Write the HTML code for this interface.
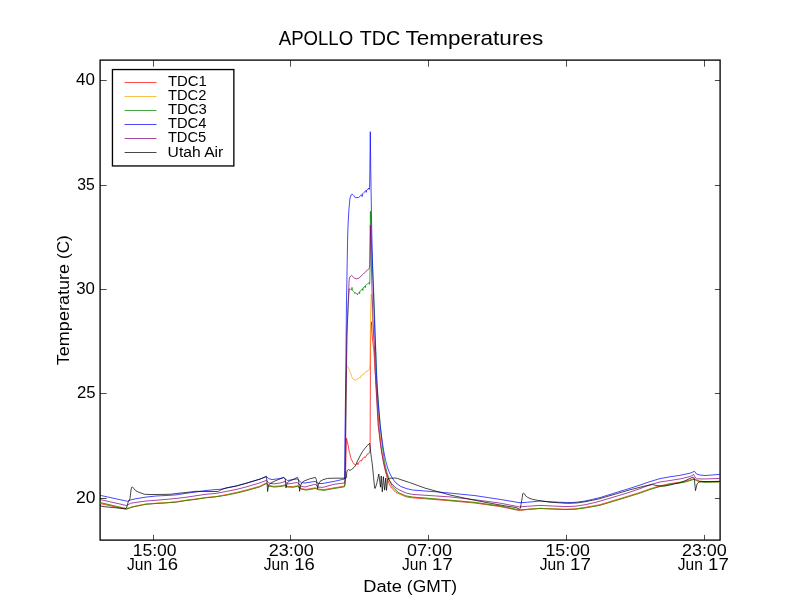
<!DOCTYPE html>
<html><head><meta charset="utf-8"><title>APOLLO TDC Temperatures</title>
<style>html,body{margin:0;padding:0;background:#fff;width:800px;height:600px;overflow:hidden}body{position:relative;font-family:"Liberation Sans",sans-serif}</style></head>
<body>
<svg width="800" height="600" viewBox="0 0 800 600" style="display:block;position:absolute;left:0;top:0;will-change:transform;filter:opacity(1)">
<rect x="0" y="0" width="800" height="600" fill="#ffffff"/>
<defs><clipPath id="ax"><rect x="100" y="60" width="620" height="480"/></clipPath></defs>
<rect x="100.1" y="60.1" width="620" height="480" fill="none" stroke="#000" stroke-width="1.33"/>
<g clip-path="url(#ax)" fill="none" stroke-linejoin="round" stroke-linecap="butt">
<path d="M100.00,503.50 L126.50,509.40 L130.00,507.70 L133.00,506.80 L136.00,506.15 L146.00,504.15 L156.00,503.40 L166.00,502.80 L176.00,502.00 L186.00,500.40 L196.00,499.15 L206.00,497.65 L216.00,496.70 L226.00,494.71 L236.00,492.60 L246.00,490.10 L256.00,487.35 L260.00,486.15 L266.30,482.95 L269.00,485.55 L274.00,486.35 L280.00,485.95 L285.30,484.95 L287.60,486.35 L292.60,486.65 L297.70,485.75 L301.60,488.60 L306.00,489.45 L315.30,487.85 L318.30,489.05 L324.00,489.65 L334.00,487.85 L344.40,486.15 L344.60,486.30 L345.30,484.00 L345.70,470.00 L346.00,455.00 L346.50,438.20 L347.20,441.00 L348.00,445.00 L349.50,452.50 L351.00,458.50 L353.00,462.50 L354.50,464.50 L355.50,465.00 L356.50,464.10 L357.50,463.20 L358.00,464.70 L358.40,462.70 L360.00,461.20 L361.20,460.30 L361.60,461.10 L362.00,459.40 L362.50,459.30 L362.90,458.10 L364.00,457.70 L365.00,456.80 L365.40,457.50 L366.00,455.90 L367.00,455.20 L367.30,453.90 L368.00,454.30 L368.60,453.20 L369.50,453.00 L370.10,449.00 L370.30,400.00 L370.50,345.00 L370.90,330.00 L371.40,321.80 L372.00,332.00 L372.80,342.00 L373.80,350.00 L374.80,366.00 L376.00,382.00 L378.90,425.00 L381.40,450.00 L384.50,467.50 L387.00,477.50 L389.50,485.00 L392.00,488.30 L396.00,492.50 L406.25,496.83 L412.50,497.85 L425.00,498.71 L450.00,500.80 L475.00,503.05 L500.00,506.55 L519.40,510.55 L527.50,509.42 L540.00,508.35 L552.50,508.85 L565.00,509.35 L575.00,508.95 L585.00,507.35 L595.00,505.60 L600.00,504.65 L610.00,501.65 L620.00,498.65 L630.00,495.55 L640.00,492.45 L650.00,488.85 L660.00,485.85 L670.00,483.60 L680.00,482.25 L685.00,481.35 L690.00,479.95 L694.00,478.65 L696.50,479.95 L700.00,481.15 L705.00,481.65 L720.00,481.35" stroke="#ff0000" stroke-width="0.72"/>
<path d="M100.00,502.70 L126.50,508.45 L130.00,507.45 L133.00,506.55 L136.00,505.90 L146.00,503.90 L156.00,503.15 L166.00,502.55 L176.00,501.75 L186.00,500.15 L196.00,498.90 L206.00,497.40 L216.00,496.45 L226.00,495.06 L236.00,493.10 L246.00,490.60 L256.00,487.85 L260.00,486.65 L266.30,483.45 L269.00,486.05 L274.00,486.85 L280.00,486.45 L285.30,485.45 L287.60,486.85 L292.60,487.15 L297.70,486.25 L301.60,489.10 L306.00,489.95 L315.30,488.35 L318.30,489.55 L324.00,490.15 L334.00,488.35 L344.40,486.65 L345.00,478.00 L345.40,440.00 L346.10,385.00 L346.50,366.50 L347.30,366.00 L348.70,368.00 L349.40,370.60 L350.70,373.30 L351.60,376.40 L352.70,378.70 L354.00,379.60 L356.00,380.00 L358.00,378.70 L359.50,377.60 L360.30,378.00 L361.00,375.60 L362.70,374.70 L363.60,374.90 L364.40,373.00 L366.70,371.30 L367.60,371.40 L368.20,370.00 L369.30,369.30 L369.90,366.00 L370.30,340.00 L370.60,310.00 L371.30,294.00 L372.00,306.00 L372.80,325.00 L374.10,342.00 L375.10,366.00 L375.80,382.00 L378.20,425.00 L381.00,447.00 L384.30,465.00 L387.00,475.00 L389.50,482.20 L392.00,487.00 L396.00,491.30 L400.40,494.40 L406.25,495.85 L412.50,496.95 L425.00,497.95 L450.00,500.10 L475.00,502.35 L500.00,505.85 L519.40,509.85 L527.50,509.25 L540.00,508.35 L552.50,508.85 L565.00,509.35 L575.00,509.10 L585.00,507.85 L595.00,506.10 L600.00,505.15 L610.00,502.15 L620.00,499.15 L630.00,496.05 L640.00,492.95 L650.00,489.35 L660.00,486.35 L670.00,484.10 L680.00,482.75 L685.00,481.85 L690.00,480.45 L694.00,479.15 L696.50,480.45 L700.00,481.65 L705.00,482.15 L720.00,481.85" stroke="#ffa500" stroke-width="0.72"/>
<path d="M100.00,502.50 L126.50,508.80 L130.00,507.80 L133.00,506.90 L136.00,506.25 L146.00,504.25 L156.00,503.50 L166.00,502.90 L176.00,502.10 L186.00,500.50 L196.00,499.25 L206.00,497.75 L216.00,496.80 L226.00,495.25 L236.00,493.25 L246.00,490.75 L256.00,488.00 L260.00,486.80 L266.30,483.60 L269.00,486.20 L274.00,487.00 L280.00,486.60 L285.30,485.60 L287.60,487.00 L292.60,487.30 L297.70,486.40 L301.60,489.25 L306.00,490.10 L315.30,488.50 L318.30,489.70 L324.00,490.30 L334.00,488.50 L344.40,486.80 L345.20,478.00 L345.90,400.00 L346.90,335.00 L348.00,308.00 L349.20,288.80 L350.50,289.40 L351.60,289.80 L352.00,287.40 L352.40,290.20 L353.50,291.40 L354.60,292.40 L355.00,293.60 L355.40,292.60 L356.40,293.60 L357.20,294.00 L357.50,295.00 L357.90,293.60 L358.80,292.60 L359.30,291.90 L359.60,293.60 L360.00,291.40 L361.20,290.00 L362.40,288.70 L362.80,290.50 L363.20,288.00 L364.20,286.90 L364.90,286.10 L365.30,287.70 L365.70,285.50 L366.60,284.60 L367.40,283.80 L368.40,283.10 L369.20,282.50 L369.50,284.40 L369.80,282.00 L370.00,270.00 L370.40,211.30 L371.30,240.00 L372.40,265.00 L373.40,285.00 L374.20,305.00 L374.90,324.00 L375.40,340.00 L376.10,360.00 L377.00,382.00 L378.80,408.00 L380.20,425.00 L382.20,445.00 L384.60,462.50 L387.00,472.50 L389.50,480.40 L392.00,485.50 L396.00,490.00 L398.25,492.40 L400.00,493.30 L406.25,496.00 L412.50,497.10 L425.00,498.10 L450.00,500.25 L475.00,502.50 L500.00,506.00 L519.40,510.00 L527.50,509.40 L540.00,508.50 L552.50,509.00 L565.00,509.50 L575.00,509.25 L585.00,508.00 L595.00,506.25 L600.00,505.30 L610.00,502.30 L620.00,499.30 L630.00,496.20 L640.00,493.10 L650.00,489.50 L660.00,486.50 L670.00,484.25 L680.00,482.90 L685.00,482.00 L690.00,480.60 L694.00,479.30 L696.50,480.60 L700.00,481.80 L705.00,482.30 L720.00,482.00" stroke="#008000" stroke-width="0.72"/>
<path d="M100.00,495.30 L127.50,501.30 L131.00,499.80 L136.00,498.70 L146.00,497.10 L156.00,496.00 L166.00,495.50 L176.00,494.90 L186.00,493.30 L196.00,492.00 L206.00,490.50 L216.00,489.50 L221.00,489.25 L226.00,488.00 L236.00,486.00 L246.00,483.25 L256.00,480.25 L260.00,479.05 L266.30,476.40 L268.75,478.60 L272.00,479.60 L280.00,478.50 L283.80,477.70 L287.50,480.50 L297.00,478.90 L301.50,482.70 L305.00,483.00 L315.00,481.40 L318.50,483.40 L322.00,483.60 L335.00,481.20 L344.40,479.00 L344.70,470.00 L344.95,440.00 L345.70,380.00 L346.50,300.00 L346.90,280.00 L347.30,255.00 L347.70,235.00 L348.20,222.00 L348.90,210.00 L349.40,204.00 L350.00,198.00 L351.20,194.80 L352.40,194.20 L353.80,195.60 L355.20,197.60 L357.00,197.70 L358.80,197.40 L360.50,195.80 L361.70,194.60 L362.10,196.50 L362.50,194.00 L364.00,192.40 L365.90,190.70 L366.30,192.30 L366.70,190.10 L368.00,189.00 L368.90,188.10 L369.20,189.60 L369.50,187.40 L369.70,185.00 L370.30,131.70 L370.80,173.00 L371.40,210.00 L371.80,235.00 L372.50,262.00 L373.20,285.00 L373.70,300.00 L374.40,320.00 L374.90,335.00 L375.60,350.00 L376.40,374.00 L377.40,392.00 L378.60,408.00 L380.10,425.00 L381.70,437.50 L383.50,450.00 L385.60,460.50 L388.00,469.00 L390.00,474.00 L392.00,477.50 L394.00,480.60 L396.00,483.00 L400.75,486.50 L406.25,488.50 L412.50,490.00 L425.00,491.00 L437.50,491.90 L450.00,493.10 L475.00,495.60 L500.00,499.40 L520.00,502.75 L527.50,502.25 L540.00,501.00 L552.50,501.90 L560.00,502.25 L565.00,502.40 L572.50,502.50 L577.50,502.10 L585.00,501.00 L592.50,499.40 L595.00,498.75 L600.00,497.60 L605.00,496.00 L617.50,492.10 L630.00,488.30 L640.00,485.10 L650.00,481.60 L660.00,478.60 L670.00,476.80 L680.00,475.35 L690.00,473.20 L694.50,471.30 L696.50,474.00 L700.00,475.00 L705.00,475.50 L710.00,475.20 L720.00,474.30" stroke="#0000ff" stroke-width="0.72"/>
<path d="M100.00,499.50 L126.50,505.50 L130.50,503.30 L136.00,502.40 L146.00,501.00 L156.00,500.25 L166.00,499.40 L176.00,498.45 L186.00,497.25 L196.00,495.75 L206.00,494.25 L216.00,493.40 L226.00,491.50 L236.00,489.50 L246.00,487.00 L256.00,484.00 L260.00,482.80 L266.30,480.40 L269.00,483.10 L274.00,483.80 L280.00,483.00 L285.30,481.40 L287.60,484.00 L297.10,482.50 L301.60,486.40 L305.00,487.00 L315.30,484.20 L318.30,487.20 L323.00,487.30 L334.00,484.30 L344.60,482.90 L345.20,480.00 L345.45,465.00 L345.65,440.00 L346.05,400.00 L346.90,335.00 L348.00,308.00 L349.00,282.00 L349.40,278.00 L350.40,276.20 L351.60,275.60 L352.80,276.40 L354.40,278.20 L356.60,278.80 L358.80,278.20 L361.00,276.20 L363.40,274.00 L366.00,271.20 L369.30,268.60 L369.80,266.00 L370.40,225.30 L371.00,250.00 L372.00,290.00 L373.40,330.00 L374.70,352.00 L375.30,374.00 L376.30,392.00 L378.20,425.00 L380.40,443.75 L383.00,460.00 L385.75,471.25 L388.25,478.80 L392.00,484.10 L396.00,488.00 L400.00,490.20 L406.25,493.10 L412.50,494.40 L425.00,495.25 L450.00,496.90 L475.00,499.75 L500.00,503.10 L519.40,506.90 L527.50,506.25 L540.00,505.40 L552.50,506.00 L565.00,506.60 L575.00,506.25 L585.00,504.75 L595.00,502.50 L600.00,501.10 L617.50,495.90 L630.00,492.10 L640.00,488.60 L650.00,484.75 L660.00,482.00 L670.00,480.50 L680.00,478.90 L685.00,477.80 L690.00,476.50 L692.00,475.50 L693.50,474.30 L694.50,476.00 L695.50,478.00 L696.50,478.75 L702.00,479.00 L710.00,478.80 L720.00,478.40" stroke="#800080" stroke-width="0.72"/>
<path d="M100.00,505.00 L102.00,506.50 L113.00,507.50 L125.00,508.75 L126.50,508.00 L128.00,502.50 L130.00,498.50 L131.00,490.00 L131.50,487.50 L132.50,487.00 L134.00,488.75 L136.00,490.90 L138.00,491.90 L141.00,493.00 L144.50,494.30 L150.00,494.50 L156.00,494.50 L171.00,494.25 L176.00,493.50 L186.00,492.50 L196.00,491.30 L206.00,491.50 L216.00,491.50 L218.50,491.30 L220.80,489.90 L224.00,488.70 L226.00,488.10 L236.00,486.10 L246.00,483.35 L256.00,480.35 L260.00,479.15 L266.30,476.60 L266.90,480.00 L267.60,491.50 L268.50,485.50 L270.00,483.60 L274.00,481.40 L280.00,478.90 L283.60,477.40 L285.30,479.00 L286.00,487.90 L287.00,483.60 L288.70,481.40 L292.60,479.70 L297.40,477.40 L298.50,479.70 L299.60,491.30 L300.50,485.90 L301.60,483.00 L304.00,481.00 L309.50,478.90 L315.40,477.40 L316.40,479.70 L317.60,488.60 L318.50,484.00 L320.00,481.40 L323.00,479.70 L327.50,478.40 L335.00,478.20 L346.00,478.20 L346.50,477.00 L346.75,472.00 L347.50,470.25 L348.50,469.50 L350.00,470.50 L351.50,469.50 L354.00,467.50 L355.50,465.50 L357.50,461.00 L360.00,456.00 L362.50,451.50 L365.00,448.25 L367.50,445.25 L369.75,443.30 L370.50,451.00 L371.50,458.50 L372.50,466.00 L373.50,476.70 L374.70,488.30 L375.30,488.30 L377.00,482.50 L378.80,474.00 L380.50,487.20 L381.20,476.00 L382.30,491.80 L383.40,476.70 L384.60,490.10 L385.75,478.00 L386.50,490.40 L387.50,480.30 L388.40,478.60 L389.50,478.25 L392.00,478.20 L395.00,478.00 L397.50,478.40 L400.00,479.40 L409.50,482.50 L425.00,488.10 L450.00,495.00 L475.00,500.30 L486.00,502.40 L496.00,504.25 L506.00,506.00 L516.00,507.50 L519.50,509.10 L520.30,508.40 L521.00,504.50 L522.25,497.50 L522.60,494.00 L523.50,493.00 L524.50,493.80 L525.60,495.90 L527.50,497.30 L530.00,498.50 L532.50,499.30 L537.50,500.30 L542.50,501.10 L550.00,502.20 L558.75,502.75 L567.50,503.40 L577.50,502.90 L585.00,501.80 L592.50,500.30 L600.00,498.60 L620.00,492.70 L630.00,489.80 L640.00,487.25 L645.00,486.00 L652.50,484.50 L655.00,485.25 L660.00,486.00 L665.00,486.00 L670.00,485.00 L675.00,483.75 L680.00,482.65 L685.00,480.80 L690.00,478.40 L693.00,477.10 L694.25,478.60 L695.50,490.60 L697.00,484.00 L698.50,482.30 L701.00,481.60 L720.00,481.40" stroke="#000000" stroke-width="0.72"/>
</g>
<g stroke="#000" stroke-width="0.7" fill="none">
<path d="M153.5,540 v-5.1 M153.5,60 v6.7"/>
<path d="M290.5,540 v-5.1 M290.5,60 v6.7"/>
<path d="M428.5,540 v-5.1 M428.5,60 v6.7"/>
<path d="M566.5,540 v-5.1 M566.5,60 v6.7"/>
<path d="M704.5,540 v-5.1 M704.5,60 v6.7"/>
<path d="M100,80.5 h6.7 M720,80.5 h-5.1"/>
<path d="M100,185.5 h6.7 M720,185.5 h-5.1"/>
<path d="M100,289.5 h6.7 M720,289.5 h-5.1"/>
<path d="M100,393.5 h6.7 M720,393.5 h-5.1"/>
<path d="M100,498.5 h6.7 M720,498.5 h-5.1"/>
</g>
<rect x="112.45" y="69.55" width="121.4" height="96.4" fill="#fff" stroke="#000" stroke-width="1.33"/>
<path d="M124.6,82.5 H156.5" stroke="#ff0000" stroke-width="0.72" fill="none"/>
<path d="M124.6,96.5 H156.5" stroke="#ffa500" stroke-width="0.72" fill="none"/>
<path d="M124.6,110.5 H156.5" stroke="#008000" stroke-width="0.72" fill="none"/>
<path d="M124.6,124.5 H156.5" stroke="#0000ff" stroke-width="0.72" fill="none"/>
<path d="M124.6,138.5 H156.5" stroke="#800080" stroke-width="0.72" fill="none"/>
<path d="M124.6,152.5 H156.5" stroke="#000000" stroke-width="0.72" fill="none"/>
<g font-family="'Liberation Sans', sans-serif" fill="#000">
<text x="167.90" y="85.80" font-size="14.0" textLength="38.99" lengthAdjust="spacingAndGlyphs">TDC1</text>
<text x="167.91" y="99.75" font-size="14.0" textLength="38.45" lengthAdjust="spacingAndGlyphs">TDC2</text>
<text x="167.90" y="113.80" font-size="14.0" textLength="39.02" lengthAdjust="spacingAndGlyphs">TDC3</text>
<text x="167.91" y="127.75" font-size="14.0" textLength="38.46" lengthAdjust="spacingAndGlyphs">TDC4</text>
<text x="167.91" y="141.60" font-size="14.0" textLength="38.30" lengthAdjust="spacingAndGlyphs">TDC5</text>
<text x="167.63" y="156.50" font-size="14.0" textLength="55.64" lengthAdjust="spacingAndGlyphs">Utah Air</text>
<text x="132.68" y="555.70" font-size="16.8" textLength="43.98" lengthAdjust="spacingAndGlyphs">15:00</text>
<text x="127.07" y="569.80" font-size="16.8" textLength="25.08" lengthAdjust="spacingAndGlyphs">Jun</text>
<text x="157.51" y="569.80" font-size="16.8" textLength="20.57" lengthAdjust="spacingAndGlyphs">16</text>
<text x="268.80" y="555.70" font-size="16.8" textLength="45.08" lengthAdjust="spacingAndGlyphs">23:00</text>
<text x="263.77" y="569.80" font-size="16.8" textLength="25.08" lengthAdjust="spacingAndGlyphs">Jun</text>
<text x="294.21" y="569.80" font-size="16.8" textLength="20.57" lengthAdjust="spacingAndGlyphs">16</text>
<text x="407.08" y="555.70" font-size="16.8" textLength="44.79" lengthAdjust="spacingAndGlyphs">07:00</text>
<text x="401.97" y="569.80" font-size="16.8" textLength="25.08" lengthAdjust="spacingAndGlyphs">Jun</text>
<text x="432.00" y="569.80" font-size="16.8" textLength="20.78" lengthAdjust="spacingAndGlyphs">17</text>
<text x="545.47" y="555.70" font-size="16.8" textLength="44.40" lengthAdjust="spacingAndGlyphs">15:00</text>
<text x="539.77" y="569.80" font-size="16.8" textLength="25.08" lengthAdjust="spacingAndGlyphs">Jun</text>
<text x="570.00" y="569.80" font-size="16.8" textLength="20.78" lengthAdjust="spacingAndGlyphs">17</text>
<text x="681.90" y="555.70" font-size="16.8" textLength="44.97" lengthAdjust="spacingAndGlyphs">23:00</text>
<text x="677.77" y="569.80" font-size="16.8" textLength="25.08" lengthAdjust="spacingAndGlyphs">Jun</text>
<text x="708.00" y="569.80" font-size="16.8" textLength="20.78" lengthAdjust="spacingAndGlyphs">17</text>
<text x="76.01" y="84.70" font-size="16.8" textLength="18.93" lengthAdjust="spacingAndGlyphs">40</text>
<text x="77.27" y="189.70" font-size="16.8" textLength="17.50" lengthAdjust="spacingAndGlyphs">35</text>
<text x="76.23" y="293.70" font-size="16.8" textLength="18.75" lengthAdjust="spacingAndGlyphs">30</text>
<text x="76.91" y="397.70" font-size="16.8" textLength="18.65" lengthAdjust="spacingAndGlyphs">25</text>
<text x="76.12" y="502.70" font-size="16.8" textLength="19.53" lengthAdjust="spacingAndGlyphs">20</text>
<text x="278.75" y="45.10" font-size="20.4" textLength="74.37" lengthAdjust="spacingAndGlyphs">APOLLO</text>
<text x="359.71" y="45.10" font-size="20.4" textLength="40.49" lengthAdjust="spacingAndGlyphs">TDC</text>
<text x="405.55" y="45.10" font-size="20.4" textLength="137.62" lengthAdjust="spacingAndGlyphs">Temperatures</text>
<text x="363.29" y="591.60" font-size="16.8" textLength="38.58" lengthAdjust="spacingAndGlyphs">Date</text>
<text x="406.86" y="591.60" font-size="16.8" textLength="50.24" lengthAdjust="spacingAndGlyphs">(GMT)</text>
<text transform="translate(68.75,365.16) rotate(-90)" font-size="16.8" textLength="101.15" lengthAdjust="spacingAndGlyphs">Temperature</text>
<text transform="translate(68.75,259.02) rotate(-90)" font-size="16.8" textLength="23.71" lengthAdjust="spacingAndGlyphs">(C)</text>
</g>
</svg>
</body></html>
